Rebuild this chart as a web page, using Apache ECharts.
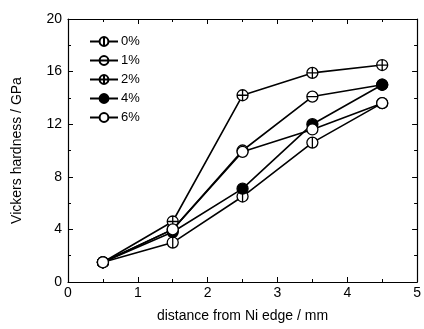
<!DOCTYPE html>
<html><head><meta charset="utf-8">
<script src="https://cdn.jsdelivr.net/npm/echarts@6/dist/echarts.min.js"></script>
<style>html,body{margin:0;padding:0;background:#fff}#c{width:424px;height:329px}</style>
</head><body><div id="c"></div>
<script>
var distance = [0.5, 1.5, 2.5, 3.5, 4.5];
var seriesNames = ['0%', '1%', '2%', '4%', '6%'];
var h0 = [1.5, 3.0, 6.5, 10.6, 13.6];
var h1 = [1.5, 4.0, 10.0, 14.1, 15.0];
var h2 = [1.5, 4.6, 14.2, 15.9, 16.5];
var h4 = [1.5, 3.8, 7.1, 12.0, 15.0];
var h6 = [1.5, 4.0, 9.9, 11.6, 13.6];

var circ = 'M10,0A10,10,0,1,1,10,20A10,10,0,1,1,10,0Z';
var symVert = 'path://' + circ + 'M10,0L10,20';
var symHorz = 'path://' + circ + 'M0,10L20,10';
var symCross = 'path://' + circ + 'M10,0L10,20M0,10L20,10';

function pairs(ys){ return distance.map(function(x,i){return [x, ys[i]];}); }
var allData = [h0, h1, h2, h4, h6];
var symbols = [symVert, symHorz, symCross, 'circle', 'circle'];
var fills = ['#fff', '#fff', '#fff', '#000', '#fff'];

var font = 'Liberation Sans, Arial, sans-serif';
var series = allData.map(function(d, i){
  return {
    name: seriesNames[i], type: 'line', data: pairs(d),
    symbol: symbols[i], symbolSize: 11, showAllSymbol: true,
    lineStyle: {color: '#000', width: 1.6},
    itemStyle: {color: fills[i], borderColor: '#000', borderWidth: 1.3},
    emphasis: {disabled: true}, z: 2 + i
  };
});

function mkAxis(extra){
  var a = {
    type: 'value',
    axisLine: {show: true, onZero: false, lineStyle: {color: '#000', width: 1.2}},
    axisTick: {show: true, inside: true, length: 5, lineStyle: {color: '#000', width: 1}},
    minorTick: {show: true, splitNumber: 2, length: 3, lineStyle: {color: '#000', width: 1}},
    splitLine: {show: false},
    minorSplitLine: {show: false}
  };
  for (var k in extra) a[k] = extra[k];
  return a;
}

var chart = echarts.init(document.getElementById('c'), null, {renderer: 'canvas'});
chart.setOption({
  animation: false,
  backgroundColor: '#fff',
  grid: {left: 68, right: 3, top: 19, bottom: 47},
  legend: {
    data: seriesNames, orient: 'vertical', left: 84, top: 30,
    itemWidth: 28, itemHeight: 11, itemGap: 6,
    textStyle: {fontFamily: font, fontSize: 13, color: '#000', padding: [0,0,0,-2]},
    selectedMode: false
  },
  xAxis: [
    mkAxis({min: 0, max: 5, interval: 1, position: 'bottom',
      name: 'distance from Ni edge / mm', nameLocation: 'middle', nameGap: 27,
      nameTextStyle: {fontFamily: font, fontSize: 14, color: '#000'},
      axisLabel: {fontFamily: font, fontSize: 14, color: '#000', margin: 4}}),
    mkAxis({min: 0, max: 5, interval: 1, position: 'top',
      axisLabel: {show: false}})
  ],
  yAxis: [
    mkAxis({min: 0, max: 20, interval: 4, position: 'left',
      name: 'Vickers hardness / GPa', nameLocation: 'middle', nameGap: 44,
      nameTextStyle: {fontFamily: font, fontSize: 14, color: '#000'},
      axisLabel: {fontFamily: font, fontSize: 14, color: '#000', margin: 6}}),
    mkAxis({min: 0, max: 20, interval: 4, position: 'right',
      axisLabel: {show: false}})
  ],
  series: series
});
</script></body></html>
